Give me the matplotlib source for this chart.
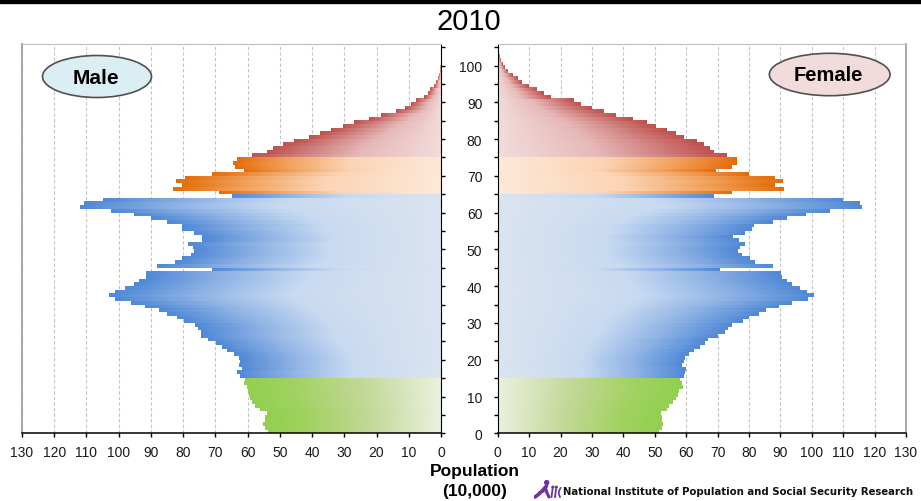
import numpy as np
import matplotlib
matplotlib.use('Agg')
import matplotlib.pyplot as plt
from matplotlib import font_manager
from matplotlib.colors import LinearSegmentedColormap
from matplotlib.patches import Ellipse, Rectangle, Circle

plt.rcParams['font.family'] = ['Liberation Sans', 'DejaVu Sans']

#-----------------------------------------------------------------------------
# Daten: Bevoelkerung 2010 je Altersjahr (Einheit 10.000 Personen)
year_title = '2010'
ages = np.arange(0, 103)

male = [53.6, 54.6, 55.1, 54.6, 54.6, 54.1, 56.2, 57.6, 58.6, 59.4,      # 0-9
        59.7, 60.0, 60.3, 61.2, 60.7, 62.3, 63.2, 61.7, 62.8, 62.4,      # 10-19
        62.8, 64.1, 66.5, 68.1, 69.8, 72.3, 74.5, 74.5, 75.5, 76.3,      # 20-29
        79.8, 81.9, 85.1, 87.4, 91.7, 96.3, 101.1, 102.9, 101.0, 97.9,   # 30-39
        95.4, 93.6, 91.4, 91.4, 71.1, 88.0, 82.6, 80.4, 77.6, 76.7,      # 40-49
        77.0, 78.5, 74.0, 74.0, 76.5, 80.3, 80.5, 85.1, 89.9, 95.4,      # 50-59
        102.4, 112.0, 110.9, 105.0, 65.0, 69.0, 83.3, 80.5, 82.2, 79.3,  # 60-69
        71.1, 61.1, 63.8, 64.6, 63.3, 58.7, 53.9, 52.1, 49.1, 45.5,      # 70-79
        40.8, 37.5, 34.2, 30.5, 27.1, 22.4, 18.6, 14.0, 11.3, 9.3,       # 80-89
        7.8, 5.2, 4.1, 3.3, 2.3, 1.5, 0.9, 0.5, 0.3, 0.2,                # 90-99
        0.0, 0.0, 0.0]                                                   # 100-102

female = [51.0, 52.2, 52.5, 52.1, 51.9, 51.8, 53.5, 54.4, 55.7, 56.6,    # 0-9
          57.3, 57.5, 58.7, 58.4, 57.9, 59.1, 59.3, 59.7, 58.5, 59.1,    # 10-19
          59.4, 60.5, 62.2, 64.1, 65.7, 66.8, 70.0, 72.1, 73.2, 74.2,    # 20-29
          77.8, 79.8, 83.0, 85.2, 89.4, 93.3, 98.5, 100.3, 98.1, 95.9,   # 30-39
          93.3, 92.0, 90.2, 90.0, 70.6, 87.3, 81.6, 80.0, 77.4, 76.2,    # 40-49
          77.0, 78.6, 76.6, 74.7, 78.5, 80.7, 81.4, 87.3, 92.0, 98.0,    # 50-59
          105.6, 115.8, 115.1, 109.6, 68.6, 74.3, 91.0, 87.9, 90.6, 87.9,  # 60-69
          79.9, 69.4, 74.3, 76.0, 76.0, 72.9, 68.5, 67.2, 65.5, 63.1,    # 70-79
          59.1, 56.5, 53.6, 50.0, 47.4, 42.8, 37.4, 33.7, 29.9, 26.2,    # 80-89
          23.9, 16.7, 14.5, 12.1, 9.6, 7.6, 6.1, 4.5, 3.1, 2.0,          # 90-99
          1.3, 0.8, 0.4]                                                 # 100-102

# Altersgruppen: 0-14, 15-64, 65-74, 75+
group_start = [0, 15, 65, 75]

pop_ticks = np.arange(0, 131, 10)
age_major = np.arange(0, 101, 10)
age_minor = np.arange(0, 106, 5)

institute = 'National Institute of Population and Social Security Research'

#-----------------------------------------------------------------------------
# Farbverlaeufe (innen blass -> aussen kraeftig)
cmaps = [
    LinearSegmentedColormap.from_list('g', [(0, '#ebf1de'), (0.4, '#c3d898'), (0.75, '#a2d262'), (1, '#92d050')]),
    LinearSegmentedColormap.from_list('b', [(0, '#dbe4f0'), (0.45, '#c8daf1'), (0.72, '#92b5e6'), (1, '#5089d6')]),
    LinearSegmentedColormap.from_list('o', [(0, '#fde9d9'), (0.45, '#fbd4b4'), (0.75, '#f2a05a'), (1, '#e46c0a')]),
    LinearSegmentedColormap.from_list('r', [(0, '#f2dcdb'), (0.45, '#e6b9b8'), (0.75, '#d0807e'), (1, '#c0504d')]),
]
grad = np.linspace(0, 1, 256).reshape(1, -1)


def cmap_for(age):
    k = 0
    for i, s in enumerate(group_start):
        if age >= s:
            k = i
    return cmaps[k]


def draw_side(ax, values):
    bars = ax.barh(ages, values, height=1.0, align='edge', color='none', edgecolor='none')
    for age, rect in zip(ages, bars):
        w = rect.get_width()
        if w <= 0:
            continue
        y0 = rect.get_y()
        ax.imshow(grad, cmap=cmap_for(age), vmin=0, vmax=1, aspect='auto',
                  extent=(0, w, y0, y0 + rect.get_height()),
                  interpolation='bilinear', zorder=2)


#-----------------------------------------------------------------------------
W, H = 921., 502.
fig = plt.figure(figsize=(W / 100, H / 100), dpi=100)

axL = fig.add_axes([22 / W, 1 - 434.3 / H, (441 - 22) / W, (434.3 - 44.5) / H])
axR = fig.add_axes([497.7 / W, 1 - 434.3 / H, (906 - 497.7) / W, (434.3 - 44.5) / H])

draw_side(axL, male)
draw_side(axR, female)

tick_col = '#1a1a1a'
for ax in (axL, axR):
    ax.set_ylim(0, 106)
    ax.set_axisbelow(True)
    ax.grid(axis='x', linestyle=(0, (3, 2)), color='#c4c4c4', linewidth=0.8)
    ax.grid(axis='y', visible=False)
    ax.set_xticks(pop_ticks)
    ax.tick_params(axis='x', direction='out', length=3.1, width=1, color='black',
                   labelsize=10, labelcolor=tick_col, pad=5)
    ax.spines['top'].set_color('#bfbfbf')
    ax.spines['bottom'].set_color('black')
    ax.spines['bottom'].set_linewidth(1.1)

axL.set_xlim(130, 0)
axR.set_xlim(0, 130)

# Altersachse links: Striche rechts, ohne Beschriftung
axL.yaxis.tick_right()
axL.set_yticks(age_minor)
axL.tick_params(axis='y', direction='out', length=3.1, width=1, labelright=False)
axL.spines['left'].set_color('#a6a6a6')
axL.spines['left'].set_linewidth(1.4)
axL.spines['right'].set_color('black')

# Altersachse rechts mit Beschriftung
axR.set_yticks(age_major)
axR.set_yticks(age_minor, minor=True)
axR.tick_params(axis='y', which='both', direction='out', length=3.1, width=1,
                labelsize=10, labelcolor=tick_col, pad=8)
axR.spines['right'].set_color('#a6a6a6')
axR.spines['right'].set_linewidth(1.4)
axR.spines['left'].set_color('black')

# Titel und schwarzer Balken oben
fig.add_artist(Rectangle((0, 1 - 3.5 / H), 1, 3.5 / H, transform=fig.transFigure,
                         color='black', zorder=0))
fig.text(468.5 / W, 1 - 21.7 / H, year_title, fontsize=21, ha='center', va='center')

# Geschlechter-Ellipsen
fig.add_artist(Ellipse((97 / W, 1 - 77.5 / H), 109 / W, 42 / H, transform=fig.transFigure,
                       facecolor='#daeef3', edgecolor='#505050', linewidth=1.2))
fig.text(96 / W, 1 - 78 / H, 'Male', fontsize=15, fontweight='bold', ha='center', va='center')
fig.add_artist(Ellipse((829.7 / W, 1 - 75.5 / H), 120.7 / W, 42.4 / H, transform=fig.transFigure,
                       facecolor='#f2dcdb', edgecolor='#505050', linewidth=1.2))
fig.text(828 / W, 1 - 75.5 / H, 'Female', fontsize=14.5, fontweight='bold', ha='center', va='center')

# Achsentitel
fig.text(474.7 / W, 1 - 471.7 / H, 'Population', fontsize=12.5, fontweight='bold',
         ha='center', va='center')
fig.text(475 / W, 1 - 491.7 / H, '(10,000)', fontsize=12.5, fontweight='bold',
         ha='center', va='center')

# Logo + Institut (schmale Schrift, falls vorhanden)
narrow = [f.fname for f in font_manager.fontManager.ttflist
          if any(k in f.fname.lower() for k in ('narrow', 'condensed'))
          and 'bold' in f.fname.lower()
          and not any(k in f.fname.lower() for k in ('italic', 'oblique', 'semi', 'extra'))]
narrow.sort(key=lambda p: (0 if 'liberation' in p.lower() else 1, p))
if narrow:
    inst_font = font_manager.FontProperties(fname=narrow[0])
else:
    inst_font = font_manager.FontProperties(family='Liberation Sans', weight='bold')
inst_font.set_size(12)
t_inst = fig.text(563 / W, 1 - 491.7 / H, institute, fontproperties=inst_font,
                  ha='left', va='center', color='#111111')
fig.canvas.draw()
bb = t_inst.get_window_extent()
inst_font.set_size(12 * 349.0 / bb.width)
t_inst.set_fontproperties(inst_font)

axLogo = fig.add_axes([534 / W, 1 - 500 / H, 28 / W, 19 / H])
axLogo.set_xlim(0, 28)
axLogo.set_ylim(19, 0)
axLogo.axis('off')
purple = '#7030a0'
axLogo.add_patch(Circle((12.7, 2.6), 2.0, color=purple))
axLogo.plot([1, 5, 9, 12.5], [17, 14, 10, 6], color=purple, lw=2.6, solid_capstyle='round')
axLogo.plot([11.5, 13, 15], [8, 13, 17], color=purple, lw=2.2, solid_capstyle='round')
axLogo.plot([5, 9.5], [12.5, 11.5], color=purple, lw=1.5)
for xi in (18.5, 22):
    axLogo.plot([xi, xi - 1], [9.5, 17], color=purple, lw=1.3)
    axLogo.add_patch(Circle((xi + 0.3, 7.2), 0.9, color=purple))
axLogo.plot([26.5, 25, 24.8, 26], [8, 11, 14, 17], color=purple, lw=1.2)

fig.savefig('out.png', dpi=100)
